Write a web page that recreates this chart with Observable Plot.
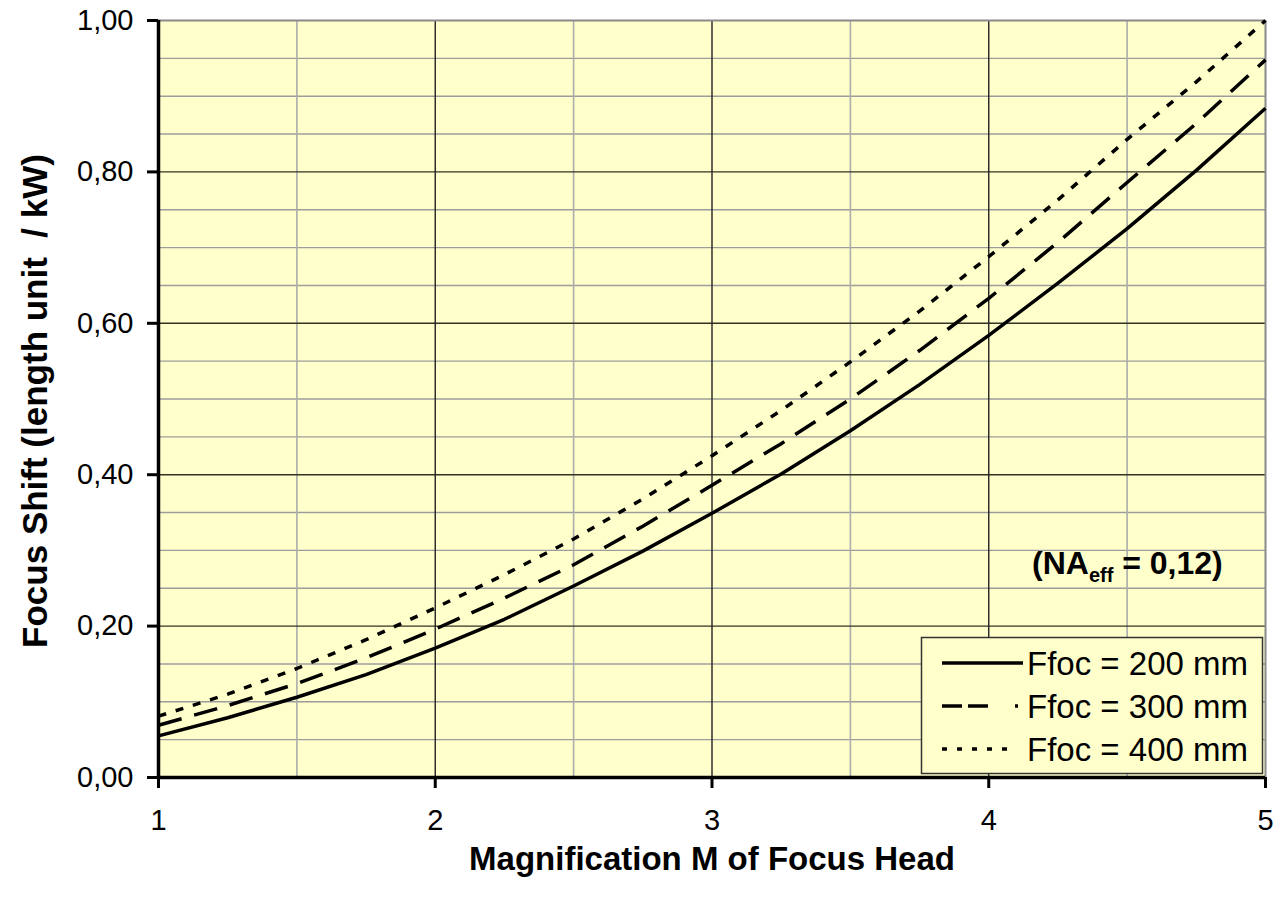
<!DOCTYPE html>
<html>
<head>
<meta charset="utf-8">
<script src="https://cdn.jsdelivr.net/npm/d3@7"></script>
<script src="https://cdn.jsdelivr.net/npm/@observablehq/plot@0.6"></script>
<style>
  html, body { margin: 0; padding: 0; background: #ffffff; }
  #chart svg { display: block; }
</style>
</head>
<body>
<div id="chart"></div>
<script>
// ---- data ----
const magnification = [1, 1.25, 1.5, 1.75, 2, 2.25, 2.5, 2.75, 3, 3.25, 3.5, 3.75, 4, 4.25, 4.5, 4.75, 5];
const ffoc200 = [0.055, 0.079, 0.106, 0.136, 0.171, 0.209, 0.253, 0.299, 0.349, 0.401, 0.458, 0.519, 0.584, 0.653, 0.725, 0.802, 0.884];
const ffoc300 = [0.069, 0.095, 0.124, 0.158, 0.196, 0.237, 0.281, 0.332, 0.386, 0.441, 0.500, 0.564, 0.633, 0.707, 0.786, 0.864, 0.948];
const ffoc400 = [0.081, 0.110, 0.144, 0.182, 0.224, 0.268, 0.315, 0.368, 0.425, 0.485, 0.549, 0.616, 0.688, 0.763, 0.843, 0.919, 1.000];
const seriesNames = ["Ffoc = 200 mm", "Ffoc = 300 mm", "Ffoc = 400 mm"];
const xTicks = [1, 2, 3, 4, 5];
const xMinorTicks = [1.5, 2.5, 3.5, 4.5];
const yTicks = [0, 0.2, 0.4, 0.6, 0.8, 1.0];
const yMinorTicks = [0.05, 0.1, 0.15, 0.25, 0.3, 0.35, 0.45, 0.5, 0.55, 0.65, 0.7, 0.75, 0.85, 0.9, 0.95];
const xTitle = "Magnification M of Focus Head";
const yTitle = "Focus Shift (length unit \u00a0/ kW)";

// ---- styles ----
const dashes = [null, "24,13", "8,10"];
const legendDashes = [null, "20,6,20,27,3,30", "5,10"];
const font = "'Liberation Sans', Arial, sans-serif";

const toRows = vals => magnification.map((m, i) => ({m, v: vals[i]}));
const rows = [ffoc200, ffoc300, ffoc400].map(toRows);
const fmt = d => d.toFixed(2).replace(".", ",");

const chart = Plot.plot({
  width: 1280,
  height: 899,
  marginLeft: 158,
  marginRight: 15,
  marginTop: 20,
  marginBottom: 122,
  style: {fontFamily: font, fontSize: "29px", color: "#000", background: "#fff", overflow: "visible"},
  x: {domain: [1, 5]},
  y: {domain: [0, 1]},
  marks: [
    Plot.frame({fill: "#FFFFCC", stroke: "none"}),
    Plot.ruleY(yMinorTicks, {stroke: "#9c9c9c", strokeWidth: 1.4}),
    Plot.ruleX(xMinorTicks, {stroke: "#acacac", strokeWidth: 1.6}),
    Plot.ruleY(yTicks.filter(d => d > 0 && d < 1), {stroke: "#333322", strokeWidth: 1.4}),
    Plot.ruleX(xTicks.filter(d => d > 1 && d < 5), {stroke: "#222", strokeWidth: 1.4}),
    Plot.ruleY([1], {stroke: "#8a8a8a", strokeWidth: 2}),
    Plot.ruleX([5], {stroke: "#8a8a8a", strokeWidth: 2}),
    ...rows.map((r, i) => Plot.line(r, {x: "m", y: "v", stroke: "#000", strokeWidth: 3.5, strokeDasharray: dashes[i] ?? undefined, strokeLinecap: "butt"})),
    Plot.axisY({ticks: yTicks, tickFormat: fmt, tickSize: 11, tickPadding: 14, strokeWidth: 3, label: null, fontSize: 29}),
    Plot.axisX({ticks: xTicks, tickFormat: d => String(d), tickSize: 11, tickPadding: 21, strokeWidth: 3, label: null, fontSize: 29}),
    Plot.ruleX([1], {stroke: "#000", strokeWidth: 3.5}),
    Plot.ruleY([0], {stroke: "#000", strokeWidth: 3.5}),
    Plot.text([xTitle], {frameAnchor: "bottom", dy: 82, text: d => d, fontWeight: "bold", fontSize: 33, lineAnchor: "middle", textAnchor: "middle"}),
    Plot.text([yTitle], {frameAnchor: "left", dx: -123, dy: 2, text: d => d, fontWeight: "bold", fontSize: 35, rotate: -90, lineAnchor: "middle", textAnchor: "middle"})
  ]
});

document.getElementById("chart").appendChild(chart);

// ---- legend and annotation (layout elements) ----
const svg = d3.select(chart);
const lg = svg.append("g").attr("font-family", font).attr("font-size", 33).attr("text-anchor", "start");
lg.append("rect").attr("x", 921.5).attr("y", 637.5).attr("width", 341).attr("height", 136)
  .attr("fill", "#FFFFCC").attr("stroke", "#333").attr("stroke-width", 1.5);
seriesNames.forEach((name, i) => {
  const cy = 663 + i * 43;
  lg.append("line").attr("x1", 942).attr("x2", i === 2 ? 1010 : 1023).attr("y1", cy).attr("y2", cy)
    .attr("stroke", "#000").attr("stroke-width", 3.5)
    .attr("stroke-dasharray", legendDashes[i]);
  lg.append("text").attr("x", 1027).attr("y", cy).attr("dy", "0.36em").text(name);
});

const na = svg.append("text").attr("x", 1032).attr("y", 563).attr("dy", "0.35em")
  .attr("text-anchor", "start")
  .attr("font-family", font).attr("font-size", 32).attr("font-weight", "bold");
na.append("tspan").text("(NA");
na.append("tspan").attr("font-size", 20).attr("dy", 8).text("eff");
na.append("tspan").attr("dy", -8).text(" = 0,12)");
</script>
</body>
</html>
